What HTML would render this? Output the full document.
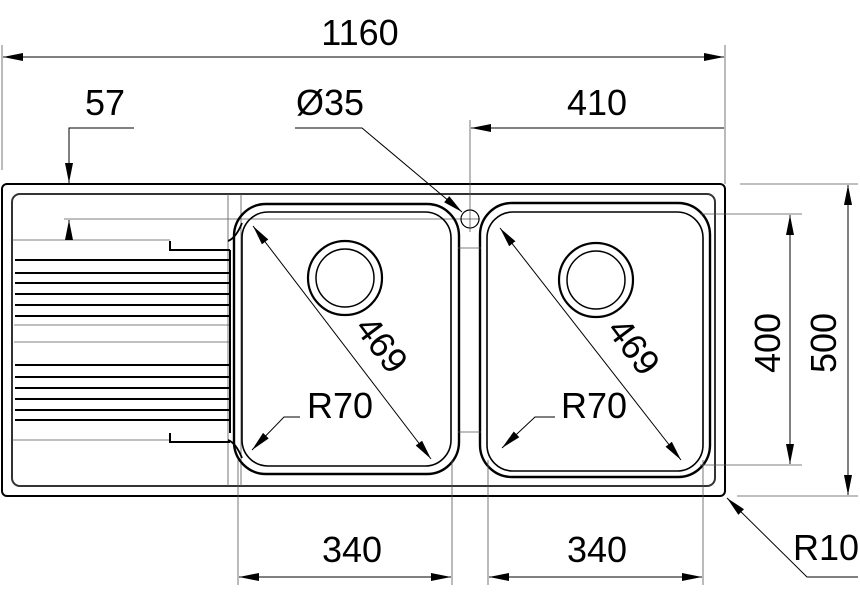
<!DOCTYPE html>
<html><head><style>html,body{margin:0;padding:0;background:#fff}svg{display:block}</style></head>
<body>
<svg width="860" height="596" viewBox="0 0 860 596" xmlns="http://www.w3.org/2000/svg" font-family="Liberation Sans, sans-serif">
<defs>
<marker id="a" viewBox="0 0 20 10" refX="20" refY="5" markerWidth="20" markerHeight="10" markerUnits="userSpaceOnUse" orient="auto-start-reverse"><path d="M0,1 L20,5 L0,9z" fill="#000"/></marker>
</defs>
<g stroke="#000" fill="none">
<rect x="2" y="184" width="723" height="312" rx="5" stroke-width="2"/>
<rect x="12" y="194" width="703" height="292" rx="8" stroke-width="2" stroke="#333"/>
<g stroke-width="0.8" stroke="#555">
<line x1="228" y1="194" x2="228" y2="486"/><line x1="241" y1="194" x2="241" y2="486"/>
<line x1="64" y1="219" x2="480" y2="219"/>
<line x1="12" y1="240" x2="170" y2="240"/>
<line x1="12" y1="440" x2="170" y2="440"/>
<line x1="14" y1="342" x2="230" y2="342"/>
<line x1="14" y1="325" x2="230" y2="325"/>
</g>
<path d="M170,241 v9 h60 M170,433 v9 h60" stroke-width="2"/>
<path d="M228,241 q8,-3 14,-18 M228,440 q8,3 14,18" stroke-width="1.8"/>
<g stroke-width="2">
<line x1="15" y1="260" x2="230" y2="260"/><line x1="15" y1="273" x2="230" y2="273"/>
<line x1="15" y1="283" x2="230" y2="283"/><line x1="15" y1="294" x2="230" y2="294"/>
<line x1="15" y1="305" x2="230" y2="305"/><line x1="15" y1="316" x2="230" y2="316"/>
<line x1="15" y1="365" x2="230" y2="365"/><line x1="15" y1="377" x2="230" y2="377"/>
<line x1="15" y1="388" x2="230" y2="388"/><line x1="15" y1="399" x2="230" y2="399"/>
<line x1="15" y1="410" x2="230" y2="410"/><line x1="15" y1="420" x2="230" y2="420"/>
<line x1="230" y1="250" x2="230" y2="433"/>
</g>
<rect x="234" y="204" width="225" height="270" rx="32" stroke-width="2.4"/>
<rect x="242" y="212" width="209" height="254" rx="26" stroke-width="1.6"/>
<rect x="480" y="203" width="230" height="274" rx="32" stroke-width="2.4"/>
<rect x="487" y="212" width="216" height="259" rx="26" stroke-width="1.6"/>
<circle cx="345" cy="278" r="37" stroke-width="2.2"/><circle cx="345" cy="278" r="29" stroke-width="1.5"/>
<circle cx="596" cy="280" r="37" stroke-width="2.2"/><circle cx="596" cy="280" r="29" stroke-width="1.5"/>
<circle cx="470" cy="219" r="9" stroke-width="1.2"/>
<g stroke-width="0.8" stroke="#555">
<line x1="470" y1="120" x2="470" y2="232"/>
<line x1="458" y1="248" x2="481" y2="248"/><line x1="458" y1="432" x2="481" y2="432"/>
<line x1="238" y1="460" x2="238" y2="585"/><line x1="452" y1="460" x2="452" y2="585"/>
<line x1="488" y1="460" x2="488" y2="585"/><line x1="703" y1="460" x2="703" y2="585"/>
<line x1="700" y1="214" x2="802" y2="214"/><line x1="700" y1="465" x2="802" y2="465"/>
<line x1="740" y1="184" x2="858" y2="184"/><line x1="737" y1="496" x2="858" y2="496"/>
<line x1="2" y1="45" x2="2" y2="170"/><line x1="725" y1="45" x2="725" y2="184"/>
</g>
<g stroke-width="1" marker-start="url(#a)" marker-end="url(#a)">
<line x1="3" y1="57" x2="724" y2="57"/>
<line x1="239" y1="577" x2="451" y2="577"/>
<line x1="489" y1="577" x2="702" y2="577"/>
<line x1="790" y1="215" x2="790" y2="464"/>
<line x1="848" y1="185" x2="848" y2="495"/>
<line x1="253" y1="226" x2="431" y2="459"/>
<line x1="500" y1="228" x2="681" y2="460"/>
</g>
<g stroke-width="1">
<line x1="471" y1="128" x2="724" y2="128" marker-start="url(#a)"/>
<path d="M134,128 H69 V183" marker-end="url(#a)"/>
<line x1="69" y1="240" x2="69" y2="220" marker-end="url(#a)"/>
<path d="M295,128 H362 L462,212" marker-end="url(#a)"/>
<path d="M555,417 H535 L502,448" marker-end="url(#a)"/>
<path d="M300,417 H284 L252,450" marker-end="url(#a)"/>
<path d="M858,577 H807 L727,498" marker-end="url(#a)"/>
</g>
</g>
<g font-size="36" fill="#000" text-anchor="middle">
<text x="360" y="45">1160</text>
<text x="105" y="115">57</text>
<text x="330" y="115">Ø35</text>
<text x="597" y="115">410</text>
<text x="340" y="418">R70</text>
<text x="594" y="418">R70</text>
<text x="352" y="562">340</text>
<text x="597" y="562">340</text>
<text x="826" y="560">R10</text>
<text transform="translate(780,343) rotate(-90)">400</text>
<text transform="translate(836,343) rotate(-90)">500</text>
<text transform="translate(372,352) rotate(53)">469</text>
<text transform="translate(624,354) rotate(53)">469</text>
</g>
</svg>
</body></html>
